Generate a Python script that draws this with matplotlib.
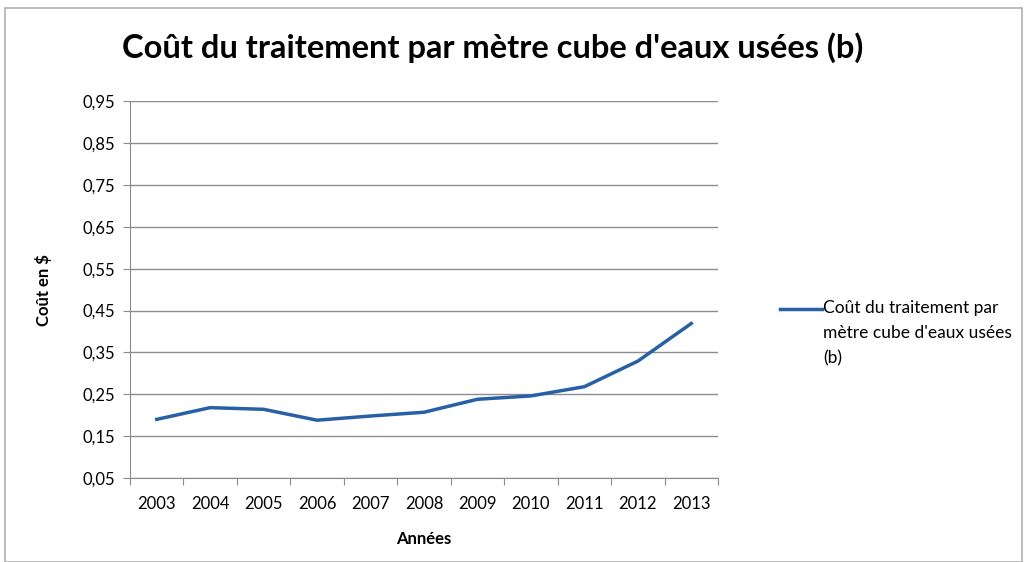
import numpy as np
import matplotlib.pyplot as plt
from matplotlib.patches import Rectangle
from matplotlib.lines import Line2D

years = [2003, 2004, 2005, 2006, 2007, 2008, 2009, 2010, 2011, 2012, 2013]
cout = [0.19, 0.218, 0.214, 0.188, 0.198, 0.207, 0.238, 0.246, 0.268, 0.329, 0.419]
yticks = [0.05, 0.15, 0.25, 0.35, 0.45, 0.55, 0.65, 0.75, 0.85, 0.95]
serie = "Coût du traitement par\nmètre cube d'eaux usées\n(b)"

plt.rcParams['font.family'] = ['Lato', 'DejaVu Sans']
bleu = '#2760a6'

fig = plt.figure(figsize=(10.27, 5.62), dpi=100)
fig.patches.append(Rectangle((0.005, 0.0), 0.99, 0.985, transform=fig.transFigure,
                             fill=False, edgecolor='#b0b0b0', linewidth=1.2))

ax = fig.add_axes([0.1266, 0.1495, 0.5725, 0.6705])
ax.plot(years, cout, color=bleu, linewidth=2.5)

ax.set_xlim(2002.5, 2013.5)
ax.set_ylim(0.05, 0.95)
ax.set_yticks(yticks)
ax.set_yticklabels([f"{v:.2f}".replace('.', ',') for v in yticks], fontsize=12)
ax.grid(axis='y', color='#8c8c8c', linewidth=1)

# category ticks between years, labels centred on years
ax.set_xticks(np.arange(2002.5, 2014, 1))
ax.set_xticklabels([])
ax.set_xticks(years, minor=True)
ax.set_xticklabels([str(y) for y in years], minor=True, fontsize=12)
ax.tick_params(axis='x', which='major', length=5, color='#8c8c8c')
ax.tick_params(axis='x', which='minor', length=0, pad=13)
ax.tick_params(axis='y', length=5, color='#8c8c8c', pad=6)

for s in ['top', 'right']:
    ax.spines[s].set_visible(False)
ax.spines['left'].set_color('#8c8c8c')
ax.spines['bottom'].set_color('#8c8c8c')

ax.set_xlabel('Années', fontsize=12, fontweight='bold', labelpad=14)
ax.set_ylabel('Coût en $', fontsize=12, fontweight='bold', labelpad=22)

fig.text(0.119, 0.915, "Coût du traitement par mètre cube d'eaux usées (b)",
         fontsize=23.5, fontweight='bold', va='center', ha='left')

# legend: line next to first text line
y_leg = 1 - 309 / 562
fig.add_artist(Line2D([780 / 1027, 822 / 1027], [y_leg, y_leg],
                      transform=fig.transFigure, color=bleu, linewidth=2.5))
fig.text(823 / 1027, 1 - 300 / 562, serie, fontsize=12.5, va='top', ha='left',
         linespacing=1.72)

fig.savefig('out.png', dpi=100)
